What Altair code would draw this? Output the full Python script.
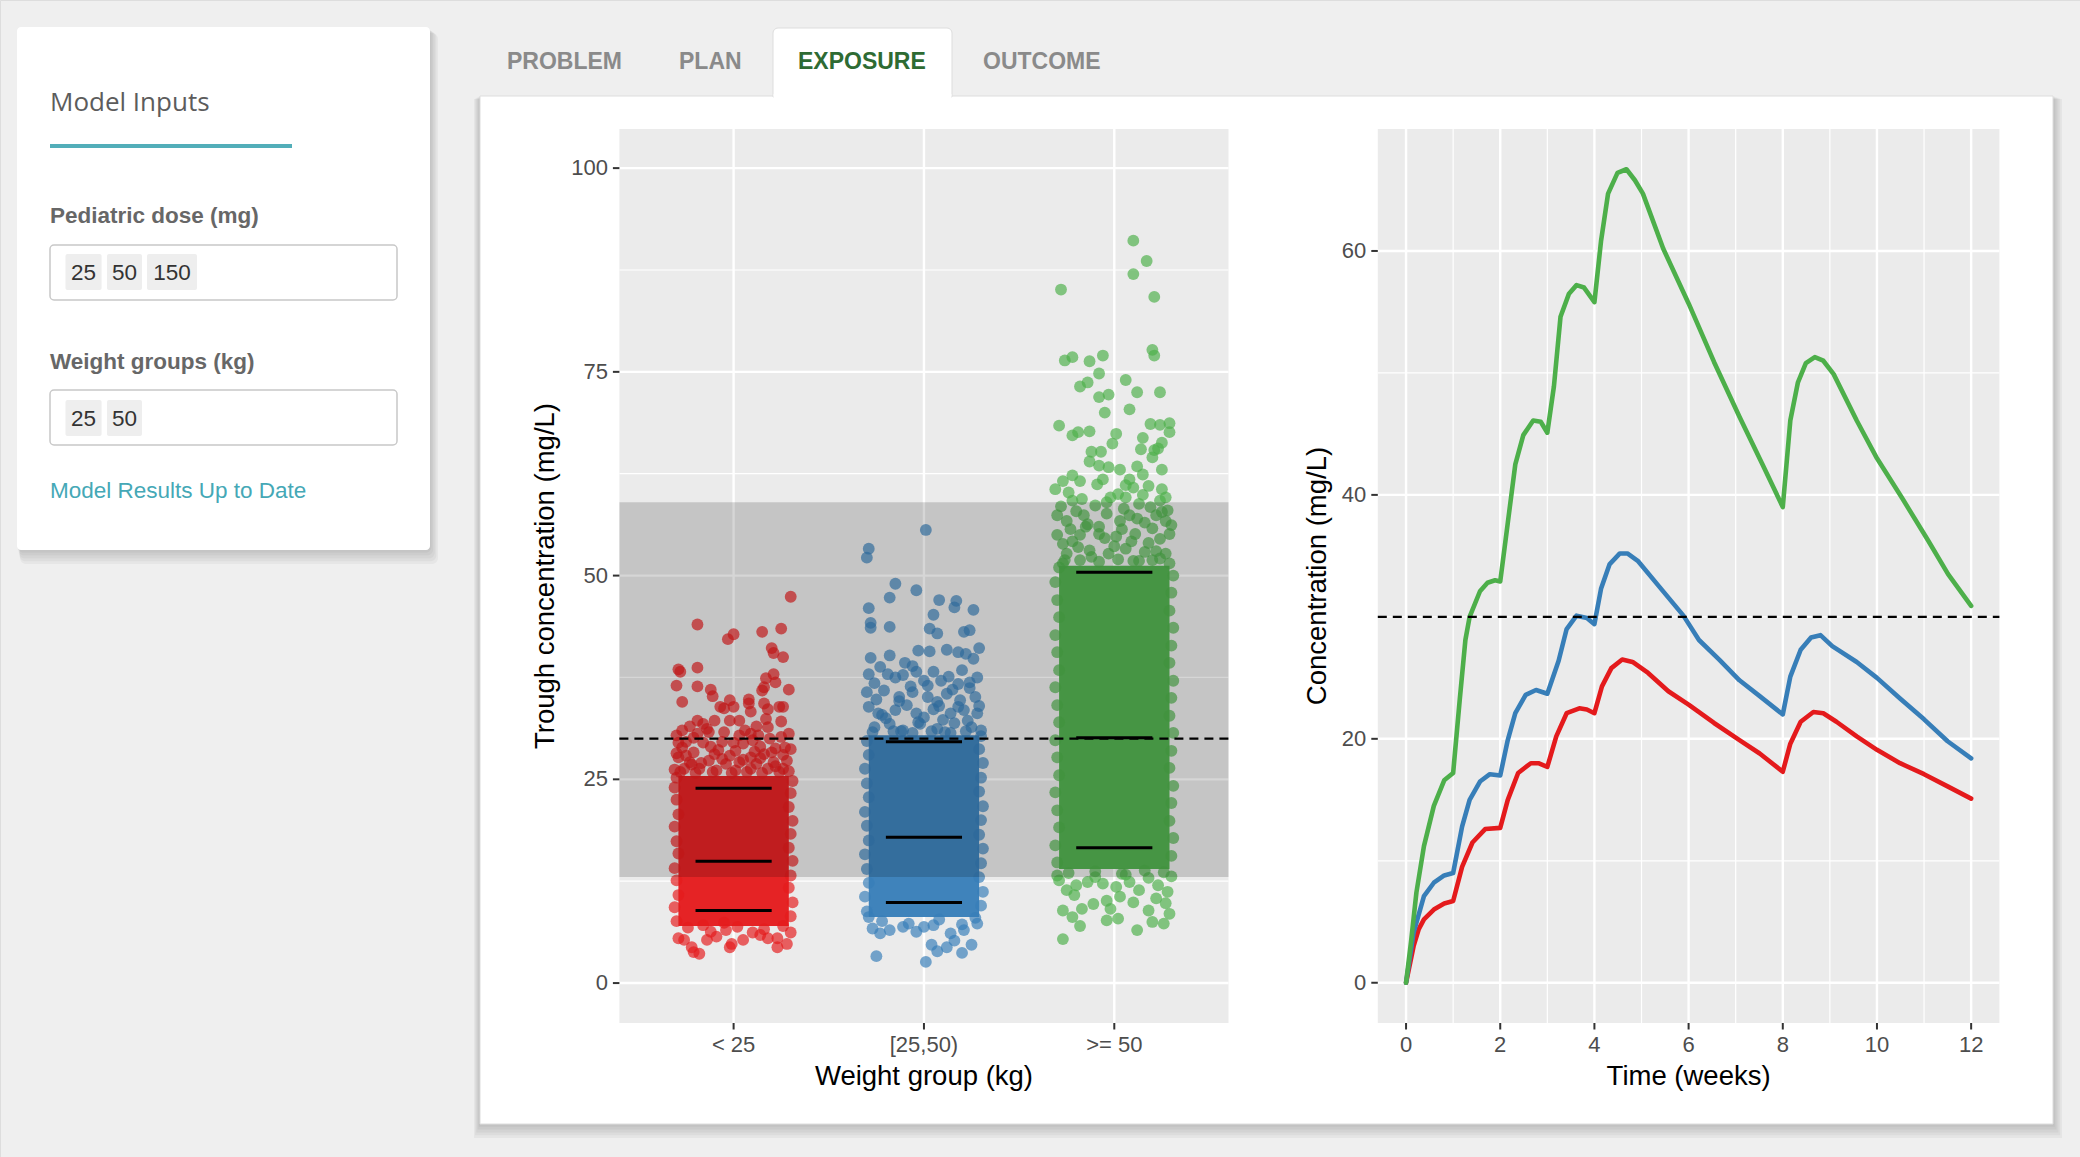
import pandas as pd
import altair as alt

# ---------------- data ----------------
CATS = ["< 25", "[25,50)", ">= 50"]
COLORS = ["#e41a1c", "#377eb8", "#4daf4a"]

# scattered (jittered) trough concentrations: [jitter offset, value]
RED_POINTS = [
    [0.30, 47.4], [-0.19, 44.0], [-0.03, 42.2], [0.00, 42.8], [0.15, 43.1], [0.25, 43.5], [0.20, 41.1],
    [0.21, 40.5], [0.26, 40.0], [-0.29, 38.5], [-0.28, 38.2], [-0.19, 38.7], [-0.30, 36.5], [-0.19, 36.4],
    [-0.12, 36.0], [-0.11, 35.2], [-0.27, 34.5], [0.17, 37.4], [0.21, 37.9], [0.22, 36.9], [0.15, 35.9],
    [0.16, 36.3], [0.29, 36.0], [-0.02, 34.7], [0.08, 34.8], [-0.07, 33.9], [-0.05, 33.7], [0.00, 33.9],
    [0.08, 34.3], [0.09, 33.3], [0.16, 34.3], [0.18, 33.6], [0.24, 33.9], [0.26, 33.9], [0.25, 32.1],
    [-0.19, 32.2], [-0.16, 31.8], [-0.10, 32.2], [-0.02, 32.2], [0.03, 32.2], [0.12, 31.5], [0.17, 32.4],
    [0.18, 31.4], [-0.27, 31.0], [-0.23, 31.5], [-0.30, 30.4], [-0.19, 30.6], [-0.13, 30.8], [-0.05, 30.8],
    [0.03, 30.4], [0.09, 30.6], [0.13, 30.4], [-0.29, 29.5], [-0.25, 29.6], [-0.16, 29.5], [-0.06, 29.6],
    [0.00, 29.5], [0.05, 29.4], [0.14, 29.0], [0.22, 28.8], [0.27, 28.9], [0.30, 28.7], [-0.29, 27.7],
    [-0.21, 28.3], [-0.10, 28.1], [-0.02, 27.9], [0.09, 27.7], [0.16, 28.1], [0.21, 27.1], [0.28, 27.3],
    [-0.23, 27.1], [-0.13, 27.3], [-0.04, 26.9], [0.03, 27.1], [0.12, 26.9], [-0.26, 26.3], [-0.18, 26.3],
    [-0.09, 26.1], [0.01, 26.1], [0.09, 26.3], [0.18, 26.3], [0.26, 26.3], [-0.27, 28.9], [-0.08, 28.6],
    [0.11, 28.4], [0.25, 30.2], [-0.14, 31.2], [0.06, 31.0], [0.19, 30.0], [-0.22, 26.8], [0.22, 26.6],
    [-0.06, 27.5], [0.14, 27.6], [0.29, 26.0], [-0.31, 26.2],
    [-0.28, 25.9], [-0.20, 25.8], [-0.11, 25.9], [-0.01, 25.8], [0.07, 25.9], [0.15, 25.8], [0.24, 25.9],
    [-0.25, 27.9], [-0.17, 27.0], [0.01, 28.5], [0.20, 28.3], [-0.30, 28.2], [0.26, 28.0], [0.05, 27.4],
    [-0.12, 29.0], [0.10, 29.8], [-0.21, 30.1], [0.29, 30.6],
    [-0.30, 7.6], [-0.31, 9.3], [-0.29, 10.8], [-0.30, 12.6], [-0.31, 14.1], [-0.29, 15.9], [-0.30, 17.4],
    [-0.31, 19.2], [-0.29, 20.7], [-0.30, 22.5], [-0.31, 24.0], [-0.30, 25.2], [0.30, 8.2], [0.31, 9.9],
    [0.29, 11.7], [0.30, 13.2], [0.31, 15.0], [0.29, 16.6], [0.30, 18.3], [0.31, 19.9], [0.29, 21.6],
    [0.30, 23.3], [0.31, 24.8], [-0.24, 6.8], [-0.12, 6.3], [0.02, 6.9], [0.16, 6.6], [0.26, 7.0],
    [-0.05, 7.4],
    [-0.29, 5.5], [-0.26, 5.3], [-0.21, 3.8], [-0.18, 3.6], [-0.22, 4.4], [-0.14, 5.3], [-0.09, 5.7],
    [-0.02, 4.4], [-0.01, 4.8], [0.05, 5.3], [0.10, 6.2], [0.14, 5.9], [0.18, 5.5], [0.23, 4.4],
    [0.28, 4.8], [0.23, 5.5], [-0.16, 7.1], [-0.04, 6.5], [0.30, 6.2],
]
BLUE_POINTS = [
    [0.01, 55.6], [-0.29, 53.3], [-0.30, 52.2], [-0.15, 49.0], [-0.04, 48.2], [-0.18, 47.3], [0.08, 47.0],
    [0.17, 46.9], [0.16, 46.1], [0.26, 45.8], [-0.29, 46.0], [0.05, 45.2], [-0.28, 44.2], [-0.28, 43.6],
    [-0.18, 43.7], [0.03, 43.5], [0.07, 42.9], [0.21, 43.1], [0.24, 43.3], [-0.03, 40.8], [0.03, 40.7],
    [0.12, 40.9], [0.18, 40.6], [0.22, 40.4], [0.29, 41.1], [-0.28, 39.9], [-0.18, 40.2], [-0.10, 39.3],
    [0.26, 39.8], [-0.29, 37.9], [-0.23, 38.8], [-0.19, 37.9], [-0.15, 37.5], [-0.11, 37.8], [-0.04, 38.2],
    [0.00, 37.1], [0.05, 38.2], [0.09, 37.1], [0.20, 38.4], [0.28, 37.5], [0.24, 36.9], [0.18, 36.7],
    [-0.30, 35.7], [-0.21, 35.9], [-0.13, 35.1], [-0.06, 35.7], [0.02, 35.1], [0.07, 34.5], [0.12, 35.5],
    [0.27, 35.1], [0.19, 34.7], [-0.29, 33.9], [-0.24, 33.1], [-0.15, 33.5], [-0.09, 34.1], [-0.04, 33.1],
    [0.05, 33.6], [0.14, 33.1], [0.21, 33.5], [0.28, 33.1], [-0.26, 31.4], [-0.18, 31.8], [-0.11, 31.0],
    [-0.02, 31.8], [0.07, 31.2], [0.16, 31.9], [0.25, 31.4], [0.30, 31.0], [-0.20, 32.5], [0.00, 32.6],
    [0.10, 32.3], [0.23, 32.2], [-0.07, 36.4], [0.15, 36.0], [-0.25, 34.8], [0.29, 34.0], [-0.12, 30.9],
    [0.11, 30.8],
    [-0.27, 30.8], [-0.16, 30.9], [-0.06, 30.7], [0.04, 30.9], [0.14, 30.7], [0.22, 30.9], [-0.22, 32.9],
    [-0.03, 32.0], [0.08, 34.0], [0.18, 33.9], [-0.13, 34.6], [0.24, 36.2], [-0.26, 36.8], [0.02, 36.5],
    [0.13, 37.6], [-0.06, 38.9],
    [-0.30, 8.8], [-0.31, 10.6], [-0.29, 12.3], [-0.30, 14.0], [-0.31, 15.8], [-0.29, 17.5], [-0.30, 19.3],
    [-0.31, 21.0], [-0.29, 22.8], [-0.30, 24.5], [-0.31, 26.3], [-0.29, 28.0], [-0.30, 29.7], [0.30, 9.5],
    [0.31, 11.2], [0.29, 13.0], [0.30, 14.7], [0.31, 16.5], [0.29, 18.2], [0.30, 20.0], [0.31, 21.7],
    [0.29, 23.5], [0.30, 25.2], [0.31, 27.0], [0.29, 28.7], [0.30, 30.3], [-0.22, 7.6], [-0.08, 7.3],
    [0.08, 7.8], [0.20, 7.2], [0.27, 8.0], [0.00, 6.9],
    [-0.29, 8.1], [-0.27, 6.7], [-0.23, 6.1], [-0.18, 6.5], [-0.11, 6.9], [-0.04, 6.3], [0.05, 7.1],
    [0.04, 4.7], [0.07, 3.9], [0.12, 4.4], [0.16, 5.2], [0.20, 3.7], [0.25, 4.7], [-0.25, 3.3],
    [0.01, 2.6], [0.28, 7.3], [0.21, 6.5], [0.14, 6.1],
]
GREEN_POINTS = [
    [0.10, 91.1], [0.17, 88.6], [0.10, 87.0], [-0.28, 85.1], [0.21, 84.2], [0.20, 77.7], [0.21, 77.0],
    [-0.26, 76.4], [-0.22, 76.8], [-0.13, 76.3], [-0.06, 77.0], [-0.08, 74.8], [0.06, 74.0], [-0.18, 73.2],
    [-0.14, 73.7], [0.12, 72.5], [0.24, 72.5], [-0.08, 71.9], [-0.03, 72.2], [-0.05, 70.0], [0.08, 70.4],
    [-0.29, 68.4], [-0.22, 67.2], [-0.19, 67.6], [-0.13, 67.7], [0.19, 68.6], [0.24, 68.5], [0.29, 68.7],
    [0.29, 67.6], [0.01, 67.4], [-0.01, 66.2], [0.15, 66.9], [0.25, 66.3], [0.14, 65.5], [0.21, 65.4],
    [0.23, 65.6], [-0.12, 65.2], [-0.07, 65.2], [-0.13, 64.0], [-0.08, 63.5], [-0.03, 63.3], [0.12, 63.4],
    [0.20, 64.5], [0.03, 63.0], [0.25, 63.0], [-0.27, 61.6], [-0.22, 62.3], [-0.18, 61.6], [-0.09, 61.2],
    [-0.06, 61.8], [0.08, 61.8], [0.15, 62.4], [-0.31, 60.6], [-0.24, 60.2], [-0.17, 59.4], [-0.02, 59.6],
    [0.02, 60.0], [0.06, 59.6], [0.10, 60.8], [0.18, 61.0], [0.25, 60.6], [0.27, 59.6], [0.13, 58.8],
    [0.19, 58.4], [-0.10, 58.6], [-0.25, 56.7], [-0.23, 55.7], [-0.16, 57.4], [-0.04, 57.6], [0.08, 57.4],
    [0.22, 57.4], [0.27, 56.7], [-0.14, 56.3], [0.03, 56.7], [0.16, 56.5], [-0.27, 53.9], [-0.18, 55.0],
    [-0.08, 55.1], [0.01, 54.8], [0.11, 55.1], [0.24, 54.5], [0.29, 55.1], [-0.25, 52.7], [-0.13, 53.1],
    [-0.03, 52.7], [0.06, 53.3], [0.16, 52.9], [0.27, 52.7], [-0.27, 51.5], [-0.18, 51.9], [0.20, 51.9],
    [0.29, 51.5], [-0.20, 57.9], [0.05, 58.2], [0.28, 58.0], [-0.28, 58.5], [0.12, 57.0], [-0.08, 56.0],
    [0.20, 55.8], [-0.22, 54.2], [0.00, 53.6], [0.22, 53.0], [-0.12, 52.3], [0.10, 51.8], [-0.30, 55.0],
    [0.30, 56.2], [-0.04, 59.0], [0.24, 59.2],
    [-0.26, 51.9], [-0.08, 51.7], [0.02, 52.0], [0.13, 51.8], [0.24, 52.1], [-0.19, 53.5], [0.09, 54.2],
    [0.18, 54.0], [-0.05, 54.6], [-0.15, 56.0], [0.25, 57.8], [-0.30, 57.4], [0.04, 55.7], [-0.22, 59.2],
    [0.15, 59.9], [0.06, 61.1],
    [-0.30, 14.8], [-0.31, 16.9], [-0.29, 19.1], [-0.30, 21.2], [-0.31, 23.4], [-0.29, 25.5], [-0.30, 27.7],
    [-0.31, 29.8], [-0.29, 32.0], [-0.30, 34.1], [-0.31, 36.3], [-0.29, 38.4], [-0.30, 40.6], [-0.31, 42.7],
    [-0.29, 44.9], [-0.30, 47.0], [-0.31, 49.2], [-0.29, 51.0], [0.30, 15.6], [0.31, 17.8], [0.29, 19.9],
    [0.30, 22.1], [0.31, 24.2], [0.29, 26.4], [0.30, 28.5], [0.31, 30.7], [0.29, 32.8], [0.30, 35.0],
    [0.31, 37.1], [0.29, 39.3], [0.30, 41.4], [0.31, 43.6], [0.29, 45.7], [0.30, 47.9], [0.31, 50.0],
    [-0.24, 13.5], [-0.10, 13.7], [0.04, 13.4], [0.16, 13.8], [0.26, 13.6],
    [-0.29, 12.6], [-0.25, 11.4], [-0.20, 12.0], [-0.14, 12.4], [-0.06, 12.2], [0.01, 11.8], [0.08, 12.4],
    [0.13, 11.4], [0.23, 12.0], [0.28, 11.2], [-0.27, 8.9], [-0.22, 8.1], [-0.17, 9.1], [-0.11, 9.7],
    [-0.04, 10.1], [0.03, 10.6], [0.10, 9.9], [-0.02, 9.1], [-0.04, 7.7], [0.02, 7.9], [0.12, 6.5],
    [0.20, 7.5], [0.26, 7.3], [0.29, 8.5], [0.18, 8.9], [-0.18, 7.0], [-0.27, 5.4], [-0.30, 13.2],
    [-0.10, 13.0], [0.06, 13.3], [0.18, 12.9], [0.30, 13.1], [-0.21, 10.8], [0.22, 10.4], [0.27, 9.8],
]
# solid (saturated) part of each jitter cloud
CORE_LO = [7.0, 8.1, 14.0]
CORE_HI = [25.4, 30.4, 51.2]
CORE_HALF = 0.29
# 5th / 50th / 95th percentile segments
Q_LOW = [8.9, 9.9, 16.6]
Q_MID = [14.95, 17.9, 30.1]
Q_HIGH = [23.9, 29.6, 50.4]
SEG_HALF = 0.2
TARGET_BAND = [13.0, 59.0]
THRESHOLD = 30

# concentration-time profiles
TIME_RED = [0, 0.16, 0.27, 0.38, 0.59, 0.81, 1.0, 1.19, 1.41, 1.68, 2.0, 2.16, 2.38, 2.65, 2.81, 3.0, 3.19,
            3.41, 3.68, 3.84, 4.0, 4.16, 4.36, 4.59, 4.81, 5.14, 5.57, 6.0, 6.54, 7.08, 7.51, 8.0, 8.16, 8.38,
            8.65, 8.86, 9.14, 9.57, 10.0, 10.49, 11.0, 11.5, 12.0]
CONC_RED = [0, 3.0, 4.4, 5.2, 6.0, 6.5, 6.7, 9.5, 11.5, 12.6, 12.7, 15.0, 17.2, 18.0, 18.0, 17.7, 20.2,
            22.1, 22.5, 22.4, 22.1, 24.3, 25.8, 26.5, 26.3, 25.4, 23.9, 22.8, 21.3, 19.9, 18.8, 17.3, 19.6, 21.4,
            22.2, 22.1, 21.4, 20.2, 19.1, 18.0, 17.1, 16.1, 15.1]
TIME_BLUE = [0, 0.16, 0.38, 0.59, 0.81, 1.0, 1.19, 1.35, 1.57, 1.78, 2.0, 2.16, 2.32, 2.54, 2.76, 3.0, 3.24,
             3.41, 3.62, 3.84, 4.0, 4.14, 4.32, 4.54, 4.7, 4.92, 5.35, 5.89, 6.22, 6.65, 7.08, 7.51, 8.0, 8.16,
             8.38, 8.6, 8.8, 9.05, 9.57, 10.0, 10.49, 11.0, 11.5, 12.0]
CONC_BLUE = [0, 4.1, 7.1, 8.2, 8.8, 9.0, 12.8, 15.0, 16.5, 17.1, 17.0, 19.9, 22.1, 23.6, 24.0, 23.7, 26.4,
             29.0, 30.1, 29.9, 29.4, 32.3, 34.3, 35.2, 35.2, 34.6, 32.6, 30.1, 28.1, 26.5, 24.8, 23.5, 22.0, 25.1,
             27.3, 28.3, 28.5, 27.6, 26.3, 25.0, 23.3, 21.6, 19.8, 18.4]
TIME_GREEN = [0, 0.11, 0.22, 0.38, 0.59, 0.81, 1.0, 1.14, 1.26, 1.35, 1.57, 1.73, 1.89, 2.0, 2.16, 2.32, 2.49,
              2.7, 2.86, 3.0, 3.14, 3.28, 3.46, 3.62, 3.78, 4.0, 4.14, 4.29, 4.49, 4.68, 4.86, 5.03, 5.46, 6.0,
              6.54, 7.08, 7.57, 8.0, 8.16, 8.32, 8.49, 8.68, 8.86, 9.08, 9.57, 10.0, 10.54, 11.08, 11.51, 12.0]
CONC_GREEN = [0, 3.5, 7.4, 11.2, 14.5, 16.6, 17.2, 23.2, 28.1, 30.0, 32.1, 32.8, 33.0, 32.9, 37.7, 42.5, 44.9,
              46.1, 46.0, 45.1, 48.9, 54.6, 56.5, 57.2, 57.0, 55.8, 60.8, 64.7, 66.4, 66.7, 65.8, 64.7, 60.2, 55.7,
              50.9, 46.4, 42.5, 39.0, 46.1, 49.2, 50.8, 51.3, 51.0, 49.9, 46.1, 43.0, 39.7, 36.3, 33.5, 30.9]

# axis ticks / grid
L_Y_MAJOR = [0, 25, 50, 75, 100]
L_Y_MINOR = [12.5, 37.5, 62.5, 87.5]
L_X_MAJOR = [1, 2, 3]
R_Y_MAJOR = [0, 20, 40, 60]
R_Y_MINOR = [10, 30, 50]
R_X_MAJOR = [0, 2, 4, 6, 8, 10, 12]
R_X_MINOR = [1, 3, 5, 7, 9, 11]

# texts
L_X_TITLE, L_Y_TITLE = "Weight group (kg)", "Trough concentration (mg/L)"
R_X_TITLE, R_Y_TITLE = "Time (weeks)", "Concentration (mg/L)"
TABS = ["PROBLEM", "PLAN", "EXPOSURE", "OUTCOME"]
DOSES = ["25", "50", "150"]
WEIGHT_CUTS = ["25", "50"]

# ---------------- scales ----------------
L_XDOM, L_YDOM = [0.4, 3.6], [-4.9, 104.8]
R_XDOM, R_YDOM = [-0.6, 12.6], [-3.3, 70.0]
L_XR, R_XR, YR = [619.4, 1228.5], [1377.8, 1999.4], [1023, 129]
LX = alt.Scale(domain=L_XDOM, range=L_XR, nice=False, zero=False)
LY = alt.Scale(domain=L_YDOM, range=YR, nice=False, zero=False)
RX = alt.Scale(domain=R_XDOM, range=R_XR, nice=False, zero=False)
RY = alt.Scale(domain=R_YDOM, range=YR, nice=False, zero=False)
COLOR = alt.Color("group:N", scale=alt.Scale(domain=CATS, range=COLORS), legend=None)

FONT = "Liberation Sans"
TICK_LEN, LABEL_PAD = 6.5, 5
ONE = pd.DataFrame({"d": [0]})


# ---------------- frames ----------------
def group_points(points, i):
    return pd.DataFrame({"group": CATS[i], "x": [i + 1 + p[0] for p in points], "v": [p[1] for p in points]})


pts = pd.concat([group_points(RED_POINTS, 0), group_points(BLUE_POINTS, 1), group_points(GREEN_POINTS, 2)])
core = pd.DataFrame({"group": CATS, "x0": [i + 1 - CORE_HALF for i in range(3)],
                     "x1": [i + 1 + CORE_HALF for i in range(3)], "lo": CORE_LO, "hi": CORE_HI})
quant = pd.DataFrame([{"x0": i + 1 - SEG_HALF, "x1": i + 1 + SEG_HALF, "q": q}
                      for i in range(3) for q in (Q_LOW[i], Q_MID[i], Q_HIGH[i])])


def panel_layers(XS, YS, xd, yd, ymaj, ymin, xmaj, xmin):
    layers = [alt.Chart(pd.DataFrame({"x0": [xd[0]], "x1": [xd[1]], "y0": [yd[0]], "y1": [yd[1]]}))
              .mark_rect(color="#ebebeb").encode(
        x=alt.X("x0:Q", scale=XS, axis=None), x2="x1", y=alt.Y("y0:Q", scale=YS, axis=None), y2="y1")]
    for vals, w in ((ymin, 1.2), (ymaj, 2.4)):
        if vals:
            layers.append(alt.Chart(pd.DataFrame({"v": vals, "x0": xd[0], "x1": xd[1]}))
                          .mark_rule(color="white", strokeWidth=w).encode(
                y=alt.Y("v:Q", scale=YS, axis=None), x=alt.X("x0:Q", scale=XS, axis=None), x2="x1"))
    for vals, w in ((xmin, 1.2), (xmaj, 2.4)):
        if vals:
            layers.append(alt.Chart(pd.DataFrame({"v": vals, "y0": yd[0], "y1": yd[1]}))
                          .mark_rule(color="white", strokeWidth=w).encode(
                x=alt.X("v:Q", scale=XS, axis=None), y=alt.Y("y0:Q", scale=YS, axis=None), y2="y1"))
    return layers


def guide_layers(XS, YS, xr, xvals, xlabels, yvals, ylabels, xtitle, ytitle, ytitle_x):
    x0 = xr[0]
    yb = YR[0]
    xt = pd.DataFrame({"v": xvals, "lab": xlabels})
    yt = pd.DataFrame({"v": yvals, "lab": ylabels})
    return [
        alt.Chart(xt).mark_rule(color="#333333", strokeWidth=2).encode(
            x=alt.X("v:Q", scale=XS, axis=None), y=alt.value(yb), y2=alt.value(yb + TICK_LEN)),
        alt.Chart(xt).mark_text(font=FONT, fontSize=22, color="#4d4d4d", baseline="top", align="center").encode(
            x=alt.X("v:Q", scale=XS, axis=None), y=alt.value(yb + TICK_LEN + LABEL_PAD), text="lab:N"),
        alt.Chart(yt).mark_rule(color="#333333", strokeWidth=2).encode(
            y=alt.Y("v:Q", scale=YS, axis=None), x=alt.value(x0 - TICK_LEN), x2=alt.value(x0)),
        alt.Chart(yt).mark_text(font=FONT, fontSize=22, color="#4d4d4d", baseline="middle", align="right").encode(
            y=alt.Y("v:Q", scale=YS, axis=None), x=alt.value(x0 - TICK_LEN - LABEL_PAD), text="lab:N"),
        alt.Chart(ONE).mark_text(font=FONT, fontSize=27.5, color="black", baseline="middle", align="center").encode(
            x=alt.value((xr[0] + xr[1]) / 2), y=alt.value(1077), text=alt.value(xtitle)),
        alt.Chart(ONE).mark_text(font=FONT, fontSize=27.5, color="black", baseline="middle", align="center",
                                 angle=270).encode(
            x=alt.value(ytitle_x), y=alt.value((YR[0] + YR[1]) / 2), text=alt.value(ytitle)),
    ]


def threshold_layer(XS, YS, xd):
    return alt.Chart(pd.DataFrame({"v": [THRESHOLD], "x0": [xd[0]], "x1": [xd[1]]})).mark_rule(
        color="black", strokeWidth=2.2, strokeDash=[9, 6]).encode(
        y=alt.Y("v:Q", scale=YS, axis=None), x=alt.X("x0:Q", scale=XS, axis=None), x2="x1")


# ---------------- left plot ----------------
left_layers = panel_layers(LX, LY, L_XDOM, L_YDOM, L_Y_MAJOR, L_Y_MINOR, L_X_MAJOR, [])
left_layers += [
    alt.Chart(core).mark_rect(opacity=0.96).encode(
        x=alt.X("x0:Q", scale=LX, axis=None), x2="x1", y=alt.Y("lo:Q", scale=LY, axis=None), y2="hi",
        color=COLOR),
    alt.Chart(pts).mark_circle(size=140, opacity=0.68).encode(
        x=alt.X("x:Q", scale=LX, axis=None), y=alt.Y("v:Q", scale=LY, axis=None), color=COLOR),
    alt.Chart(pd.DataFrame({"lo": [TARGET_BAND[0]], "hi": [TARGET_BAND[1]],
                            "x0": [L_XDOM[0]], "x1": [L_XDOM[1]]})).mark_rect(color="black", opacity=0.16).encode(
        x=alt.X("x0:Q", scale=LX, axis=None), x2="x1", y=alt.Y("lo:Q", scale=LY, axis=None), y2="hi"),
    alt.Chart(quant).mark_rule(color="black", strokeWidth=3).encode(
        x=alt.X("x0:Q", scale=LX, axis=None), x2="x1", y=alt.Y("q:Q", scale=LY, axis=None)),
    threshold_layer(LX, LY, L_XDOM),
]
left_layers += guide_layers(LX, LY, L_XR, L_X_MAJOR, CATS, L_Y_MAJOR, [str(v) for v in L_Y_MAJOR],
                            L_X_TITLE, L_Y_TITLE, 546)
left = alt.layer(*left_layers)

# ---------------- right plot ----------------
prof = pd.concat([
    pd.DataFrame({"group": CATS[0], "t": TIME_RED, "c": CONC_RED}),
    pd.DataFrame({"group": CATS[1], "t": TIME_BLUE, "c": CONC_BLUE}),
    pd.DataFrame({"group": CATS[2], "t": TIME_GREEN, "c": CONC_GREEN}),
])
right_layers = panel_layers(RX, RY, R_XDOM, R_YDOM, R_Y_MAJOR, R_Y_MINOR, R_X_MAJOR, R_X_MINOR)
right_layers += [
    alt.Chart(prof).mark_line(strokeWidth=4.6, strokeJoin="round", strokeCap="round").encode(
        x=alt.X("t:Q", scale=RX, axis=None), y=alt.Y("c:Q", scale=RY, axis=None),
        color=COLOR, detail="group:N"),
    threshold_layer(RX, RY, R_XDOM),
]
right_layers += guide_layers(RX, RY, R_XR, R_X_MAJOR, [str(v) for v in R_X_MAJOR], R_Y_MAJOR,
                             [str(v) for v in R_Y_MAJOR], R_X_TITLE, R_Y_TITLE, 1318)
right = alt.layer(*right_layers)


# ---------------- page chrome ----------------
def box(x0, y0, x1, y1, **kw):
    return alt.Chart(ONE).mark_rect(**kw).encode(
        x=alt.value(x0), x2=alt.value(x1), y=alt.value(y0), y2=alt.value(y1))


def label(txt, x, y, align="left", **kw):
    return alt.Chart(ONE).mark_text(align=align, baseline="middle", **kw).encode(
        x=alt.value(x), y=alt.value(y), text=alt.value(txt))


deco = []
for d in (2, 4, 6, 8, 10):
    deco.append(box(17 + d * 0.3, 27 + d * 0.6, 430 + d * 0.8, 550 + d * 1.4, color="black", opacity=0.035,
                    cornerRadius=6))
deco.append(box(17, 27, 430, 550, color="white", cornerRadius=4))
deco.append(label("Model Inputs", 50, 103, font="Open Sans", fontSize=26, color="#5c5c5c"))
deco.append(box(50, 144, 292, 148, color="#52aeb9"))
deco.append(label("Pediatric dose (mg)", 50, 216, font=FONT, fontSize=22.5, fontWeight="bold", color="#676767"))
deco.append(box(50, 245, 397, 300, fill="white", stroke="#c8c8c8", strokeWidth=1.5, cornerRadius=4))
chip_x = [(65.5, 101.6), (107, 142), (147, 197)]
for (a, b), t in zip(chip_x, DOSES):
    deco.append(box(a, 254, b, 290, color="#eeeeee", cornerRadius=2))
    deco.append(label(t, (a + b) / 2, 272.5, align="center", font=FONT, fontSize=22.5, color="#333333"))
deco.append(label("Weight groups (kg)", 50, 362, font=FONT, fontSize=22.5, fontWeight="bold", color="#676767"))
deco.append(box(50, 390, 397, 445, fill="white", stroke="#c8c8c8", strokeWidth=1.5, cornerRadius=4))
for (a, b), t in zip(chip_x, WEIGHT_CUTS):
    deco.append(box(a, 400, b, 436, color="#eeeeee", cornerRadius=2))
    deco.append(label(t, (a + b) / 2, 418.5, align="center", font=FONT, fontSize=22.5, color="#333333"))
deco.append(label("Model Results Up to Date", 50, 491, font=FONT, fontSize=22.5, color="#45a8b6"))

for d in (2, 4, 6, 8, 10):
    deco.append(box(480 - d * 0.6, 96 + d * 0.3, 2053 + d * 0.9, 1124 + d * 1.4, color="black", opacity=0.04))
deco.append(box(480, 96, 2053, 1124, fill="white", stroke="#dddddd", strokeWidth=1))
deco.append(box(773, 28, 952, 97, fill="white", stroke="#dddddd", strokeWidth=1,
                cornerRadiusTopLeft=5, cornerRadiusTopRight=5))
deco.append(box(773.6, 94, 951.4, 99, color="white"))
tab_x = [507, 679, 798, 983]
for x, t in zip(tab_x, TABS):
    col = "#2e6b33" if t == "EXPOSURE" else "#8a8a8a"
    deco.append(label(t, x, 62, font=FONT, fontSize=23, fontWeight="bold", color=col))

chart = alt.layer(*deco, left, right).resolve_scale(
    x="independent", y="independent"
).properties(
    width=2080, height=1157, padding=0, autosize=alt.AutoSizeParams(type="none")
).configure_view(stroke=None).configure(background="#efefef")

chart.save("out.html", embed_options={"renderer": "svg", "actions": False})
